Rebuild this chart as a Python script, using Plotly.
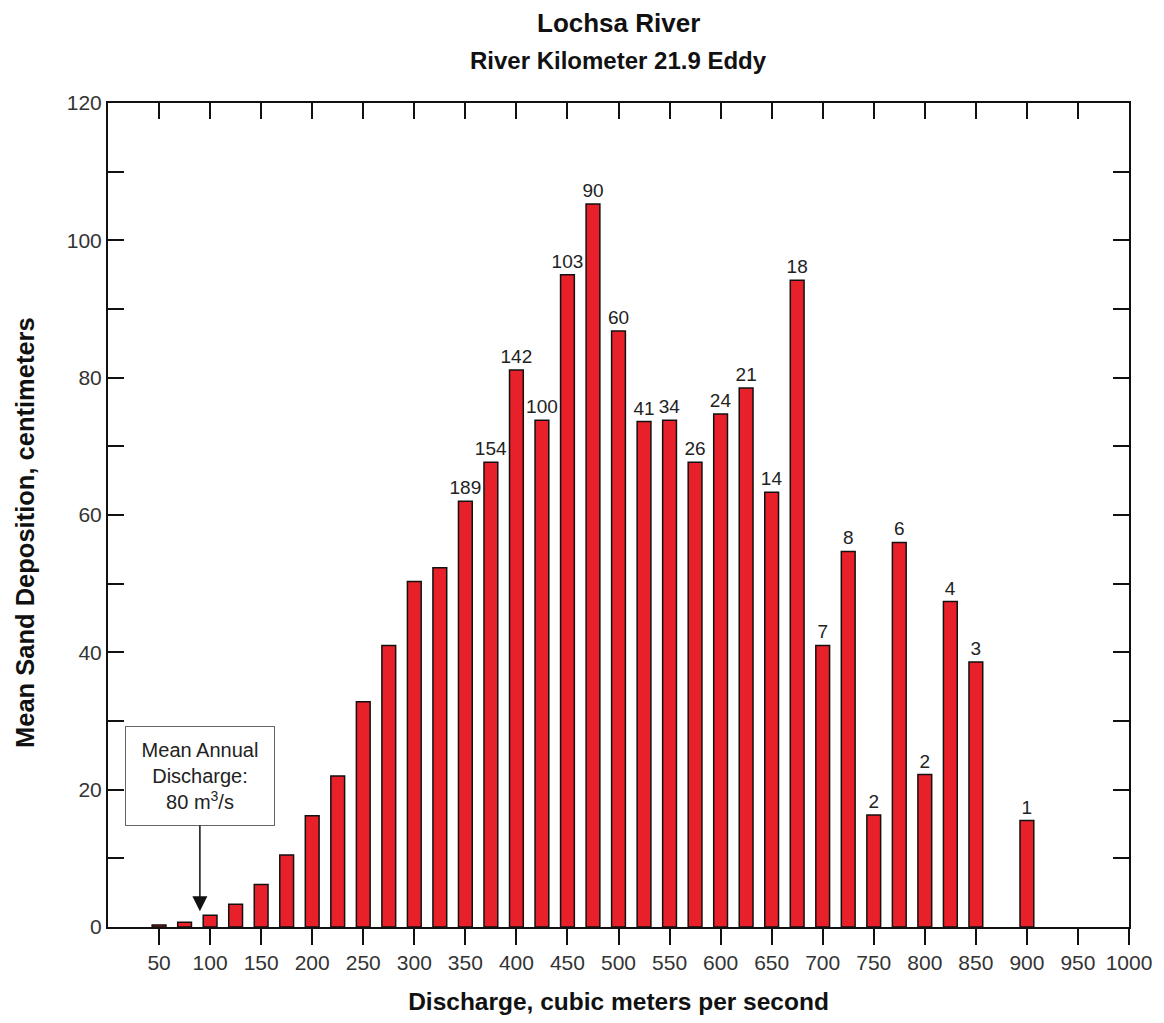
import plotly.graph_objects as go

discharge = [50, 75, 100, 125, 150, 175, 200, 225, 250, 275, 300, 325, 350, 375,
             400, 425, 450, 475, 500, 525, 550, 575, 600, 625, 650, 675, 700, 725,
             750, 775, 800, 825, 850, 900]
deposition = [0.3, 0.7, 1.7, 3.3, 6.2, 10.5, 16.2, 22.0, 32.8, 41.0, 50.3, 52.3, 62.0, 67.7,
              81.1, 73.8, 95.0, 105.3, 86.8, 73.6, 73.8, 67.7, 74.7, 78.5, 63.3, 94.2, 41.0, 54.7,
              16.3, 56.0, 22.2, 47.4, 38.6, 15.5]
# number of observations shown above bars (from 350 m3/s upward)
counts = [None, None, None, None, None, None, None, None, None, None, None, None, 189, 154,
          142, 100, 103, 90, 60, 41, 34, 26, 24, 21, 14, 18, 7, 8,
          2, 6, 2, 4, 3, 1]
x_ticks = list(range(50, 1001, 50))
y_ticks = list(range(0, 121, 20))

FONT = "Liberation Sans, Arial, sans-serif"
W, H = 1164, 1023
ML, MR, MT, MB = 108, 28, 103, 95
plot_h = H - MT - MB
plot_w = W - ML - MR


def py(pix):
    """pixel row -> paper y"""
    return (H - MB - pix) / plot_h


def px(pix):
    """pixel column -> paper x"""
    return (pix - ML) / plot_w


bar_style = dict(width=13.5, marker=dict(color="#E8202A", line=dict(color="#111111", width=1.5)),
                 showlegend=False, hoverinfo="x+y", cliponaxis=False)

plain = [i for i, c in enumerate(counts) if c is None]
labeled = [i for i, c in enumerate(counts) if c is not None]

fig = go.Figure()
fig.add_trace(go.Bar(x=[discharge[i] for i in plain], y=[deposition[i] for i in plain], **bar_style))
fig.add_trace(go.Bar(
    x=[discharge[i] for i in labeled], y=[deposition[i] for i in labeled],
    text=[str(counts[i]) for i in labeled], textposition="outside", constraintext="none",
    textfont=dict(family=FONT, size=19, color="#222222"), **bar_style,
))
# invisible trace for the top mirror axis
fig.add_trace(go.Scatter(x=[0, 1000], y=[0, 0], xaxis="x2", mode="markers",
                         marker=dict(opacity=0), showlegend=False, hoverinfo="skip"))

fig.update_layout(
    width=W, height=H,
    margin=dict(l=ML, r=MR, t=MT, b=MB),
    paper_bgcolor="white", plot_bgcolor="white",
    font=dict(family=FONT, color="#222222"),
    barmode="overlay",
    xaxis=dict(
        range=[0, 1000], tickvals=x_ticks, ticktext=[str(v) for v in x_ticks],
        ticks="outside", ticklen=16, tickwidth=2, tickcolor="#111111",
        showline=True, linecolor="#111111", linewidth=2, showgrid=False, zeroline=False,
        tickfont=dict(size=21, color="#333333"),
        title=dict(text="<b>Discharge, cubic meters per second</b>", font=dict(size=24.5, color="#111111"), standoff=20),
    ),
    xaxis2=dict(
        range=[0, 1000], overlaying="x", side="top", tickvals=x_ticks,
        ticks="inside", ticklen=16, tickwidth=2, tickcolor="#111111",
        showticklabels=False, showline=True, linecolor="#111111", linewidth=2,
        showgrid=False, zeroline=False,
    ),
    yaxis=dict(
        range=[0, 120], tickvals=y_ticks,
        ticks="inside", ticklen=16, tickwidth=2, tickcolor="#111111",
        minor=dict(dtick=10, ticks="inside", ticklen=9, tickwidth=2, tickcolor="#111111"),
        mirror="allticks", showline=True, linecolor="#111111", linewidth=2,
        showgrid=False, zeroline=False,
        tickfont=dict(size=21, color="#333333"),
    ),
    annotations=[
        dict(text="<b>Lochsa River</b>", x=0.5, xref="paper", y=py(22.5), yref="paper",
             yanchor="middle", showarrow=False, font=dict(size=26, color="#111111")),
        dict(text="<b>River Kilometer 21.9 Eddy</b>", x=0.5, xref="paper", y=py(60), yref="paper",
             yanchor="middle", showarrow=False, font=dict(size=24, color="#111111")),
        dict(text="<b>Mean Sand Deposition, centimeters</b>", textangle=-90,
             x=px(25), xref="paper", y=py(533), yref="paper",
             xanchor="center", yanchor="middle", showarrow=False,
             font=dict(size=25.5, color="#111111")),
        dict(text="Mean Annual<br>Discharge:<br>80 m<sup>3</sup>/s",
             x=90, y=2.3, xref="x", yref="y", ax=90, ay=22, axref="x", ayref="y",
             width=128, height=78,
             showarrow=True, arrowhead=2, arrowsize=2, arrowwidth=1.5, arrowcolor="#111111",
             bordercolor="#666666", borderwidth=1, borderpad=10, bgcolor="white",
             font=dict(size=20, color="#222222")),
    ],
)

fig.write_html("out.html")
